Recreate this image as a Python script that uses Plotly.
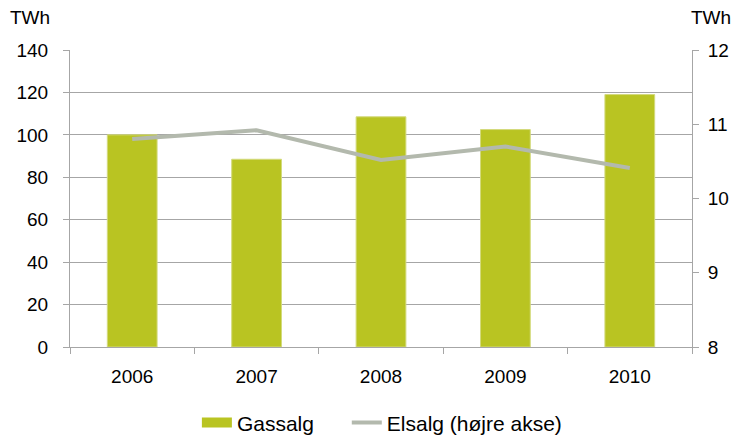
import plotly.graph_objects as go

# data
years = ["2006", "2007", "2008", "2009", "2010"]
gassalg = [100, 88.5, 108.5, 102.5, 119]
elsalg = [10.8, 10.92, 10.52, 10.7, 10.41]

left_ticks = [0, 20, 40, 60, 80, 100, 120, 140]
right_ticks = [8, 9, 10, 11, 12]

FONT = "Liberation Sans, Arial, sans-serif"
GRID = "#A6A6A6"
BAR = "#B9C422"

fig = go.Figure()
fig.add_trace(go.Bar(
    x=years, y=gassalg, name="Gassalg", showlegend=False,
    marker=dict(color=BAR, line=dict(color="#D3DA7C", width=1)),
))
# legend-only entry so the swatch is a wide block like the original
fig.add_trace(go.Scatter(
    x=[None], y=[None], name="Gassalg", mode="lines",
    line=dict(color=BAR, width=10), legend="legend",
))
fig.add_trace(go.Scatter(
    x=years, y=elsalg, name="Elsalg (højre akse)", yaxis="y2",
    mode="lines", line=dict(color="#B3B9AD", width=4), legend="legend2",
))

leg = dict(orientation="h", xanchor="left", y=-0.255, yanchor="middle",
           font=dict(size=21), bgcolor="rgba(0,0,0,0)")

# page body has an 8px margin, so everything sits 8px right/down
fig.update_layout(
    width=732, height=427,
    margin=dict(l=62, r=48, t=42, b=88, autoexpand=False),
    plot_bgcolor="white", paper_bgcolor="white",
    font=dict(family=FONT, size=19, color="#000000"),
    bargap=0.6,
    showlegend=True,
    legend=dict(leg, x=0.204),
    legend2=dict(leg, x=0.445),
    xaxis=dict(
        showline=True, linecolor=GRID, linewidth=1,
        ticks="outside", tickson="boundaries", ticklen=6, tickcolor=GRID,
        showgrid=False, automargin=False, ticklabelstandoff=12,
    ),
    yaxis=dict(
        range=[0, 140], tickvals=left_ticks,
        showline=True, linecolor=GRID, linewidth=1,
        ticks="outside", ticklen=6, tickcolor=GRID,
        showgrid=True, gridcolor=GRID, gridwidth=1, zeroline=False,
        ticklabelstandoff=11, automargin=False,
    ),
    yaxis2=dict(
        range=[8, 12], tickvals=right_ticks, overlaying="y", side="right",
        showline=True, linecolor=GRID, linewidth=1,
        ticks="outside", ticklen=6, tickcolor=GRID,
        showgrid=False, zeroline=False, ticklabelstandoff=5, automargin=False,
    ),
    annotations=[
        dict(text="TWh", xref="paper", yref="paper", x=-0.064, y=1.108,
             showarrow=False, xanchor="center", yanchor="middle", font=dict(size=19)),
        dict(text="TWh", xref="paper", yref="paper", x=1.031, y=1.108,
             showarrow=False, xanchor="center", yanchor="middle", font=dict(size=19)),
    ],
)

fig.write_html("out.html")
